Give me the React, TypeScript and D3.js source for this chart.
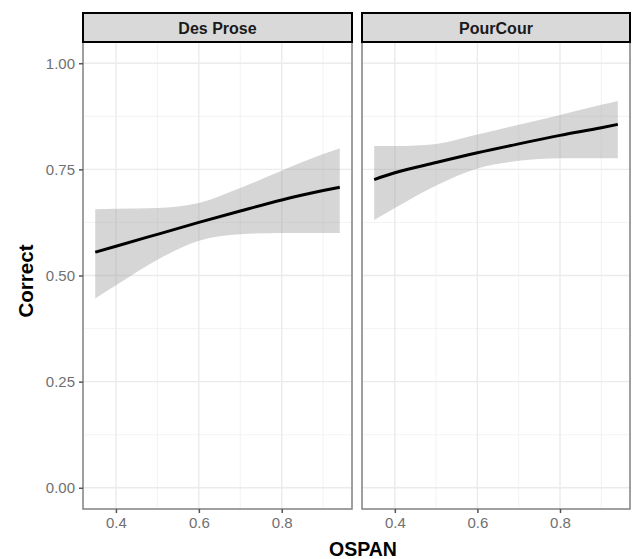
import React, { useRef, useEffect } from "react";
import * as d3 from "d3";

// facet panels
const panels = ["Des Prose", "PourCour"];

const ospan = [0.35, 0.4, 0.5, 0.6, 0.7, 0.8, 0.9, 0.94];

// fitted Correct and its confidence band, one array per panel
const fitDes = [0.555, 0.569, 0.597, 0.625, 0.652, 0.678, 0.7, 0.708];
const upperDes = [0.656, 0.657, 0.659, 0.671, 0.706, 0.747, 0.786, 0.8];
const lowerDes = [0.446, 0.477, 0.537, 0.582, 0.597, 0.6, 0.6, 0.6];

const fitPour = [0.726, 0.742, 0.766, 0.789, 0.81, 0.83, 0.848, 0.856];
const upperPour = [0.805, 0.805, 0.81, 0.832, 0.855, 0.878, 0.902, 0.911];
const lowerPour = [0.631, 0.659, 0.712, 0.752, 0.77, 0.776, 0.776, 0.776];

const xTicks = [0.4, 0.6, 0.8];
const xMinor = [0.3, 0.5, 0.7, 0.9];
const yTicks = [0, 0.25, 0.5, 0.75, 1];
const yMinor = [0.125, 0.375, 0.625, 0.875];

const App = () => {
  const svgRef = useRef(null);

  useEffect(() => {
    const width = 632;
    const height = 559;
    const top = 42;
    const bottom = 509;
    const stripTop = 13;
    const panelX = [
      [83, 352],
      [362, 630],
    ];
    const series = [
      { fit: fitDes, upper: upperDes, lower: lowerDes },
      { fit: fitPour, upper: upperPour, lower: lowerPour },
    ];
    const font = "'Liberation Sans', Arial, sans-serif";

    const svg = d3.select(svgRef.current).attr("width", width).attr("height", height);
    svg.selectAll("*").remove();

    const yScale = d3.scaleLinear().domain([-0.05, 1.05]).range([bottom, top]);

    panels.forEach((name, i) => {
      const [x0, x1] = panelX[i];
      const xScale = d3.scaleLinear().domain([0.3205, 0.9695]).range([x0, x1]);
      const g = svg.append("g");

      // gridlines
      g.selectAll(".ymin")
        .data(yMinor)
        .join("line")
        .attr("x1", x0)
        .attr("x2", x1)
        .attr("y1", (d) => yScale(d))
        .attr("y2", (d) => yScale(d))
        .attr("stroke", "#f0f0f0")
        .attr("stroke-width", 0.8);
      g.selectAll(".xmin")
        .data(xMinor.filter((d) => xScale(d) > x0 && xScale(d) < x1))
        .join("line")
        .attr("x1", (d) => xScale(d))
        .attr("x2", (d) => xScale(d))
        .attr("y1", top)
        .attr("y2", bottom)
        .attr("stroke", "#f0f0f0")
        .attr("stroke-width", 0.8);
      g.selectAll(".ymaj")
        .data(yTicks)
        .join("line")
        .attr("x1", x0)
        .attr("x2", x1)
        .attr("y1", (d) => yScale(d))
        .attr("y2", (d) => yScale(d))
        .attr("stroke", "#ebebeb")
        .attr("stroke-width", 1.4);
      g.selectAll(".xmaj")
        .data(xTicks)
        .join("line")
        .attr("x1", (d) => xScale(d))
        .attr("x2", (d) => xScale(d))
        .attr("y1", top)
        .attr("y2", bottom)
        .attr("stroke", "#ebebeb")
        .attr("stroke-width", 1.4);

      const s = series[i];
      const rows = ospan.map((x, k) => ({ x, fit: s.fit[k], lo: s.lower[k], hi: s.upper[k] }));

      const area = d3
        .area()
        .x((d) => xScale(d.x))
        .y0((d) => yScale(d.lo))
        .y1((d) => yScale(d.hi))
        .curve(d3.curveMonotoneX);
      g.append("path").datum(rows).attr("d", area).attr("fill", "#999999").attr("fill-opacity", 0.4);

      const line = d3
        .line()
        .x((d) => xScale(d.x))
        .y((d) => yScale(d.fit))
        .curve(d3.curveMonotoneX);
      g.append("path")
        .datum(rows)
        .attr("d", line)
        .attr("fill", "none")
        .attr("stroke", "black")
        .attr("stroke-width", 3);

      // panel border
      g.append("rect")
        .attr("x", x0)
        .attr("y", top)
        .attr("width", x1 - x0)
        .attr("height", bottom - top)
        .attr("fill", "none")
        .attr("stroke", "#808080")
        .attr("stroke-width", 1.5);

      // strip
      g.append("rect")
        .attr("x", x0)
        .attr("y", stripTop)
        .attr("width", x1 - x0)
        .attr("height", top - stripTop)
        .attr("fill", "#d9d9d9")
        .attr("stroke", "black")
        .attr("stroke-width", 2);
      g.append("text")
        .attr("x", (x0 + x1) / 2)
        .attr("y", (stripTop + top) / 2 + 6)
        .attr("text-anchor", "middle")
        .attr("font-family", font)
        .attr("font-weight", "bold")
        .attr("font-size", 16)
        .attr("fill", "#1a1a1a")
        .text(name);

      // x axis
      const xAxis = d3.axisBottom(xScale).tickValues(xTicks).tickSize(4).tickPadding(4).tickFormat(d3.format(".1f"));
      const xg = g.append("g").attr("transform", `translate(0,${bottom})`).call(xAxis);
      xg.select(".domain").remove();
      xg.selectAll("line").attr("stroke", "#555").attr("stroke-width", 1.5);
      xg.selectAll("text").attr("font-family", font).attr("font-size", 15).attr("fill", "#707070");

      if (i === 0) {
        const yAxis = d3.axisLeft(yScale).tickValues(yTicks).tickSize(4).tickPadding(4).tickFormat(d3.format(".2f"));
        const yg = g.append("g").attr("transform", `translate(${x0},0)`).call(yAxis);
        yg.select(".domain").remove();
        yg.selectAll("line").attr("stroke", "#555").attr("stroke-width", 1.5);
        yg.selectAll("text").attr("font-family", font).attr("font-size", 15).attr("fill", "#707070");
      }
    });

    // axis titles
    svg.append("text")
      .attr("x", 363)
      .attr("y", 556)
      .attr("text-anchor", "middle")
      .attr("font-family", font)
      .attr("font-weight", "bold")
      .attr("font-size", 19.5)
      .attr("fill", "black")
      .text("OSPAN");
    svg.append("text")
      .attr("transform", `translate(33,281) rotate(-90)`)
      .attr("text-anchor", "middle")
      .attr("font-family", font)
      .attr("font-weight", "bold")
      .attr("font-size", 20.5)
      .attr("fill", "black")
      .text("Correct");
  }, []);

  return (
    <div style={{ position: "absolute", left: 0, top: 0, background: "white" }}>
      <svg ref={svgRef} style={{ display: "block" }} />
    </div>
  );
};

export default App;
